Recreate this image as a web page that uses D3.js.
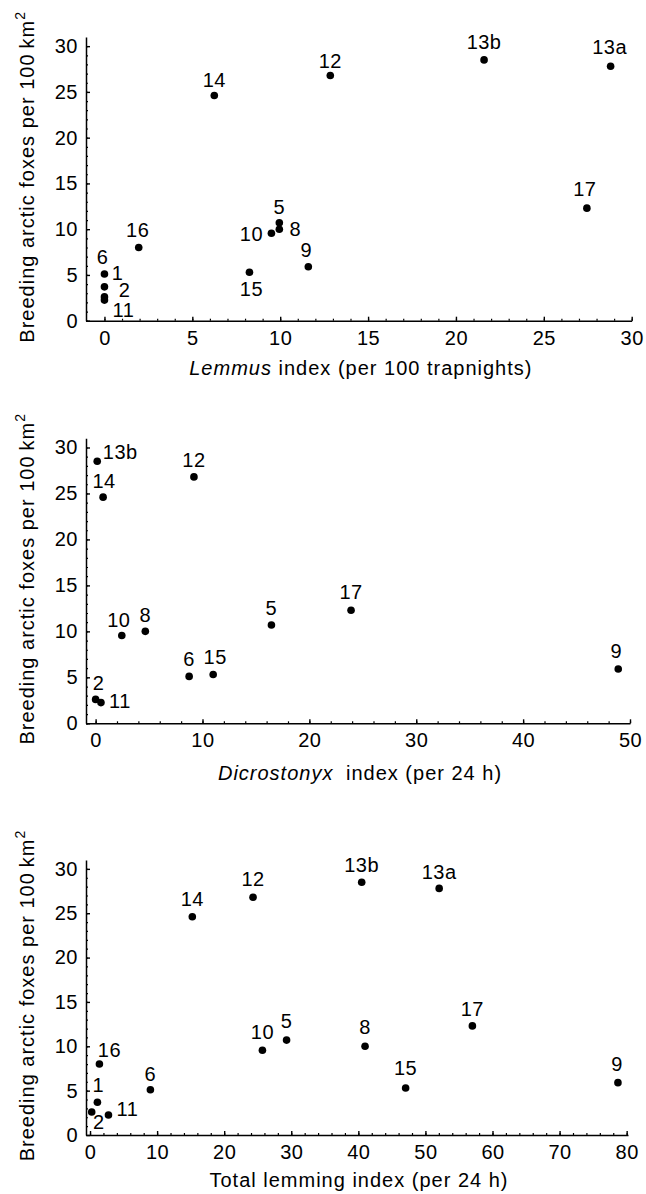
<!DOCTYPE html>
<html>
<head>
<meta charset="utf-8">
<script src="https://cdn.jsdelivr.net/npm/d3@7"></script>
<style>
    body { margin: 0; background: #fff; }
    svg { display: block; }
    text { font-family: "Liberation Sans", Arial, Helvetica, sans-serif; fill: #000; }
</style>
</head>
<body>
<div id="chart"></div>
<script>
// site ids as labelled in the figure
const sites = ["1", "2", "5", "6", "8", "9", "10", "11", "12", "13a", "13b", "14", "15", "16", "17"];

// breeding arctic foxes per 100 km2
const foxes = [3.7, 2.6, 10.7, 5.1, 10.0, 5.9, 9.55, 2.25, 26.8, 27.8, 28.5, 24.6, 5.3, 8.0, 12.3];

// Lemmus index (per 100 trapnights)
const lemmusIndex = [0, 0, 9.95, 0, 9.95, 11.6, 9.5, 0, 12.85, 28.8, 21.6, 6.25, 8.25, 1.95, 27.45];

// Dicrostonyx index (per 24 h), null = not shown
const dicrostonyxIndex = [null, 0, 16.45, 8.75, 4.65, 48.9, 2.45, 0.5, 9.2, null, 0.15, 0.7, 11.0, null, 23.9];

// total lemming index (per 24 h)
const totalIndex = [1.1, 0.25, 29.3, 9.0, 41.0, 78.7, 25.7, 2.75, 24.3, 52.05, 40.5, 15.25, 47.05, 1.4, 57.0];

const yTicks = [0, 5, 10, 15, 20, 25, 30];

const width = 646, height = 1194;

let svg = d3.select("#chart").append("svg")
    .attr("width", width)
    .attr("height", height);

// label placement relative to the dot (px), default is above
let defaultNudge = [0, -17];

let panels = [
    {
        xValues: lemmusIndex,
        xDomain: [-1.05, 30], xRange: [86, 631.7],
        yRange: [320.7, 37],
        xTicks: [0, 5, 10, 15, 20, 25, 30], xMinorStep: 1,
        titleItalic: "Lemmus", titleRest: " index (per 100 trapnights)", titleGap: 0, titleY: 54,
        nudge: {
            "6": [-2, -17], "1": [13, -14], "2": [20, -7], "11": [19, 10], "16": [-1, -18],
            "14": [0, -16], "15": [2, 17], "10": [-20, 0], "5": [0, -16], "8": [16, 0],
            "9": [-2, -17], "12": [0, -15], "13b": [0, -18], "13a": [-1, -19], "17": [-2, -19]
        }
    },
    {
        xValues: dicrostonyxIndex,
        xDomain: [-0.9, 50], xRange: [86, 630],
        yRange: [723.3, 438.3],
        xTicks: [0, 10, 20, 30, 40, 50], xMinorStep: 2,
        titleItalic: "Dicrostonyx", titleRest: " index (per 24 h)", titleGap: 6, titleY: 57,
        nudge: {
            "13b": [23, -9], "14": [1, -16], "10": [-3, -16], "6": [0, -18], "15": [2, -18],
            "2": [3, -17], "11": [19, -2], "9": [-2, -18], "17": [0, -18]
        }
    },
    {
        xValues: totalIndex,
        xDomain: [-0.6, 80.2], xRange: [86, 628],
        yRange: [1135, 860],
        xTicks: [0, 10, 20, 30, 40, 50, 60, 70, 80], xMinorStep: 2,
        titleItalic: null, titleRest: "Total lemming index (per 24 h)", titleGap: 0, titleY: 52,
        nudge: {
            "16": [10, -14], "6": [0, -16], "1": [1, -17], "2": [7, 10], "11": [19, -6],
            "5": [0, -19], "8": [0, -19], "15": [0, -20], "9": [-1, -19], "14": [0, -18],
            "12": [0, -18], "10": [0, -18]
        }
    }
];

panels.forEach(function (p) {
    let x = d3.scaleLinear().domain(p.xDomain).range(p.xRange);
    let y = d3.scaleLinear().domain([0, 31]).range(p.yRange);
    let x0 = p.xRange[0];
    let yBase = p.yRange[0];

    let g = svg.append("g");

    // minor ticks first, then the main axes over them
    let xMinor = d3.range(0, p.xDomain[1] + 0.001, p.xMinorStep);
    g.append("g").attr("transform", "translate(0," + yBase + ")")
        .call(d3.axisBottom(x).tickValues(xMinor).tickSize(-2).tickFormat(""))
        .call(s => s.select(".domain").remove())
        .call(s => s.selectAll(".tick line").attr("stroke-width", 1.2));

    g.append("g").attr("transform", "translate(" + x0 + ",0)")
        .call(d3.axisLeft(y).tickValues(d3.range(0, 31, 1)).tickSize(-2).tickFormat(""))
        .call(s => s.select(".domain").remove())
        .call(s => s.selectAll(".tick line").attr("stroke-width", 1.2));

    let xAxis = g.append("g").attr("transform", "translate(0," + yBase + ")")
        .call(d3.axisBottom(x).tickValues(p.xTicks).tickSize(-4).tickSizeOuter(0).tickPadding(10));

    let yAxis = g.append("g").attr("transform", "translate(" + x0 + ",0)")
        .call(d3.axisLeft(y).tickValues(yTicks).tickSize(-4).tickSizeOuter(0).tickPadding(8));

    [xAxis, yAxis].forEach(function (a) {
        a.select(".domain").attr("stroke-width", 1.5);
        a.selectAll(".tick line").attr("stroke-width", 1.4);
        a.selectAll(".tick text")
            .attr("font-family", "Liberation Sans, Arial, sans-serif")
            .attr("font-size", 20)
            .style("letter-spacing", "0.5px");
    });

    // x title
    let title = g.append("text")
        .attr("x", (p.xRange[0] + p.xRange[1]) / 2 + 2)
        .attr("y", yBase + p.titleY)
        .attr("text-anchor", "middle")
        .attr("font-size", 20)
        .style("letter-spacing", "1px");
    if (p.titleItalic) {
        title.append("tspan").attr("font-style", "italic").text(p.titleItalic);
    }
    title.append("tspan").attr("dx", p.titleGap).text(p.titleRest);

    // y title
    let yt = g.append("text")
        .attr("transform", "translate(34," + ((p.yRange[0] + p.yRange[1]) / 2 - 2) + ") rotate(-90)")
        .attr("text-anchor", "middle")
        .attr("font-size", 20)
        .style("letter-spacing", "1px");
    yt.append("tspan").text("Breeding arctic foxes per 100\u2009km");
    yt.append("tspan").attr("font-size", 14).attr("dy", -9).text("2");

    // points
    let pts = sites.map(function (s, i) {
        return {site: s, xv: p.xValues[i], yv: foxes[i]};
    }).filter(d => d.xv !== null);

    g.selectAll(".dot").data(pts).enter().append("circle")
        .attr("class", "dot")
        .attr("cx", d => x(d.xv))
        .attr("cy", d => y(d.yv))
        .attr("r", 3.8)
        .attr("fill", "#000");

    g.selectAll(".lbl").data(pts).enter().append("text")
        .attr("class", "lbl")
        .attr("x", d => x(d.xv) + (p.nudge[d.site] || defaultNudge)[0])
        .attr("y", d => y(d.yv) + (p.nudge[d.site] || defaultNudge)[1])
        .attr("dy", "0.36em")
        .attr("text-anchor", "middle")
        .attr("font-size", 20)
        .style("letter-spacing", "0.5px")
        .text(d => d.site);
});
</script>
</body>
</html>
